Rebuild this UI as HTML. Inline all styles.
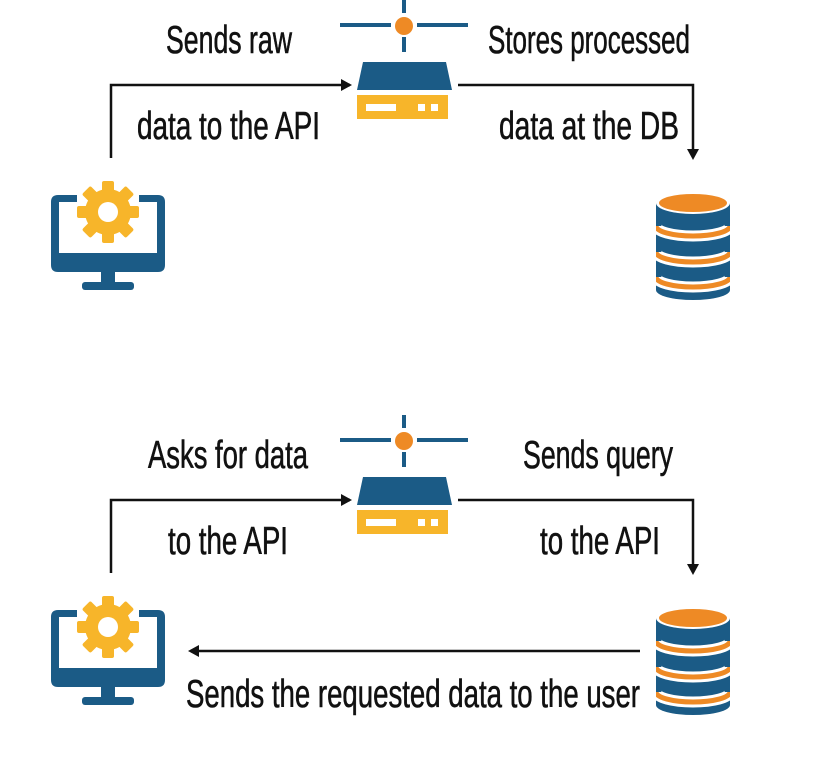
<!DOCTYPE html>
<html><head><meta charset="utf-8"><style>
html,body{margin:0;padding:0;background:#fff;}
svg{display:block;}
text{font-family:"Liberation Sans",sans-serif;font-size:39px;fill:#111;stroke:#111;stroke-width:0.6;}
</style></head><body>
<svg width="813" height="769" viewBox="0 0 813 769" xmlns="http://www.w3.org/2000/svg">
<defs>
<clipPath id="dbclip"><rect x="656" y="190" width="74" height="120"/></clipPath>
<g id="server">
  <line x1="404" y1="0" x2="404" y2="13" stroke="#1b5b86" stroke-width="4"/>
  <line x1="404" y1="37" x2="404" y2="52" stroke="#1b5b86" stroke-width="4"/>
  <line x1="340" y1="25" x2="391" y2="25" stroke="#1b5b86" stroke-width="4"/>
  <line x1="417" y1="25" x2="468" y2="25" stroke="#1b5b86" stroke-width="4"/>
  <circle cx="404" cy="26" r="9" fill="#ee8a25"/>
  <polygon points="363,62 446,62 452,90 357,90" fill="#1b5b86"/>
  <rect x="357" y="95" width="91" height="24" fill="#f7b52a"/>
  <rect x="366" y="104" width="30" height="7" fill="#fff"/>
  <rect x="418" y="104" width="7" height="7" fill="#fff"/>
  <rect x="431" y="104" width="7" height="7" fill="#fff"/>
</g>
<g id="monitor">
  <path d="M77,195 H58 Q51,195 51,202 V265 Q51,272 58,272 H158 Q165,272 165,265 V202 Q165,195 158,195 H139 V202 H157 V253 H59 V202 H77 Z" fill="#1b5b86"/>
  <rect x="101" y="272" width="14" height="10" fill="#1b5b86"/>
  <rect x="82" y="282" width="52" height="8" rx="3" fill="#1b5b86"/>
  <g transform="translate(108,212)" fill="#f7b52a">
    <circle r="23"/>
    <rect x="-6" y="-31" width="12" height="62" rx="2"/>
    <rect x="-6" y="-31" width="12" height="62" rx="2" transform="rotate(45)"/>
    <rect x="-6" y="-31" width="12" height="62" rx="2" transform="rotate(90)"/>
    <rect x="-6" y="-31" width="12" height="62" rx="2" transform="rotate(135)"/>
    <circle r="10" fill="#fff"/>
  </g>
</g>
<g id="db">
  <g clip-path="url(#dbclip)">
  <path d="M656,203 V290 A37,10 0 0 0 730,290 V203 Z" fill="#1b5b86"/>
  <path d="M656,226 A37,10 0 0 0 730,226" fill="none" stroke="#fff" stroke-width="11"/>
  <path d="M656,226 A37,10 0 0 0 730,226" fill="none" stroke="#ee8a25" stroke-width="5"/>
  <path d="M656,252 A37,10 0 0 0 730,252" fill="none" stroke="#fff" stroke-width="11"/>
  <path d="M656,252 A37,10 0 0 0 730,252" fill="none" stroke="#ee8a25" stroke-width="5"/>
  <path d="M656,277 A37,10 0 0 0 730,277" fill="none" stroke="#fff" stroke-width="11"/>
  <path d="M656,277 A37,10 0 0 0 730,277" fill="none" stroke="#ee8a25" stroke-width="5"/>
  </g>
  <ellipse cx="693" cy="203" rx="37" ry="11" fill="#fff"/>
  <ellipse cx="693" cy="203" rx="34" ry="9" fill="#ee8a25"/>
</g>
</defs>

<use href="#server"/>
<use href="#monitor"/>
<use href="#db"/>
<polyline points="111,158 111,85 350,85" fill="none" stroke="#111" stroke-width="2.5"/>
<polygon points="352,85 341,79 341,91" fill="#111"/>
<polyline points="458,85 693,85 693,156" fill="none" stroke="#111" stroke-width="2.5"/>
<polygon points="693,160 687,149 699,149" fill="#111"/>
<text x="166" y="53" textLength="126" lengthAdjust="spacingAndGlyphs">Sends raw</text>
<text x="137" y="139" textLength="183" lengthAdjust="spacingAndGlyphs">data to the API</text>
<text x="488" y="53" textLength="202" lengthAdjust="spacingAndGlyphs">Stores processed</text>
<text x="499" y="139" textLength="180" lengthAdjust="spacingAndGlyphs">data at the DB</text>

<g transform="translate(0,415)">
<use href="#server"/>
<use href="#monitor"/>
<use href="#db"/>
<polyline points="111,158 111,85 350,85" fill="none" stroke="#111" stroke-width="2.5"/>
<polygon points="352,85 341,79 341,91" fill="#111"/>
<polyline points="458,85 693,85 693,156" fill="none" stroke="#111" stroke-width="2.5"/>
<polygon points="693,160 687,149 699,149" fill="#111"/>
</g>
<line x1="640" y1="651" x2="192" y2="651" stroke="#111" stroke-width="2.5"/>
<polygon points="188,651 199,645 199,657" fill="#111"/>
<text x="148" y="468" textLength="160" lengthAdjust="spacingAndGlyphs">Asks for data</text>
<text x="168" y="554" textLength="120" lengthAdjust="spacingAndGlyphs">to the API</text>
<text x="523" y="468" textLength="150" lengthAdjust="spacingAndGlyphs">Sends query</text>
<text x="540" y="554" textLength="120" lengthAdjust="spacingAndGlyphs">to the API</text>
<text x="186" y="707" textLength="454" lengthAdjust="spacingAndGlyphs">Sends the requested data to the user</text>
</svg>
</body></html>
